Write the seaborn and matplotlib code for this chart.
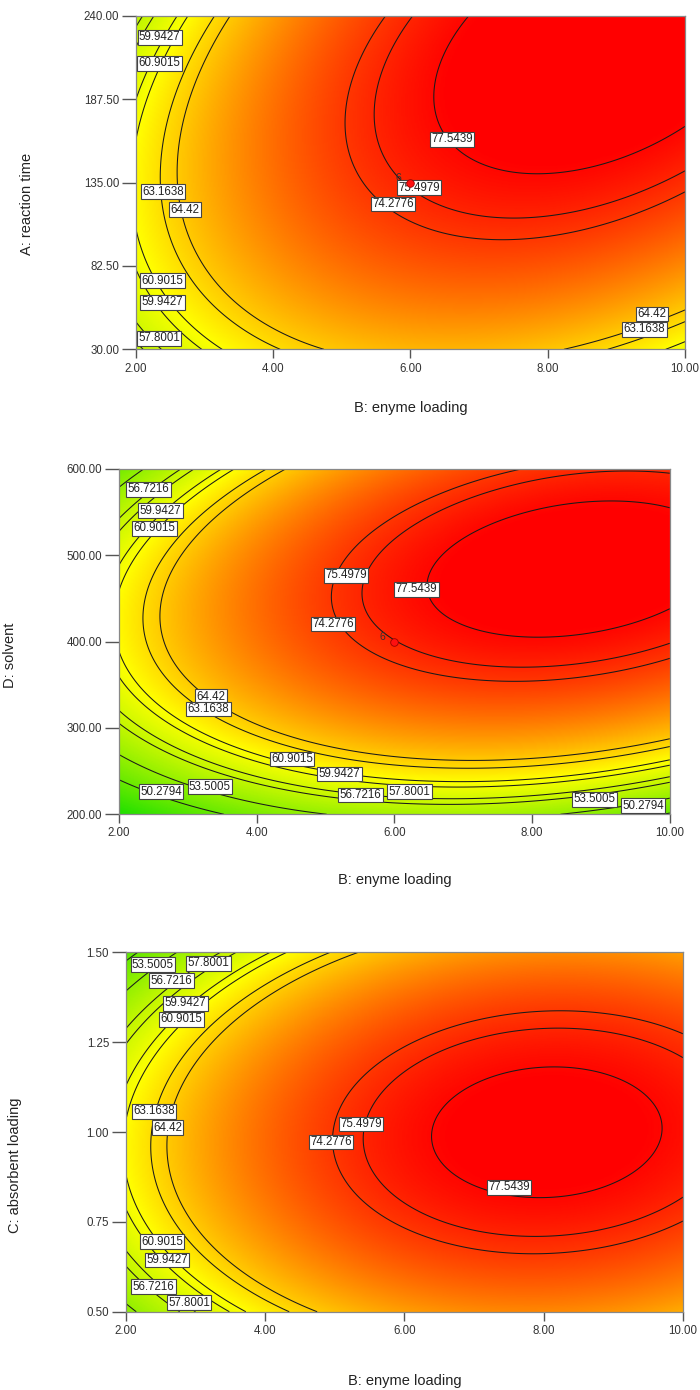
import numpy as np
import matplotlib
matplotlib.use("Agg")
import matplotlib.pyplot as plt
import seaborn as sns
from matplotlib.colors import LinearSegmentedColormap
from matplotlib.ticker import FormatStrFormatter

sns.set_theme(style="white")
plt.rcParams['font.family'] = ['Liberation Sans', 'DejaVu Sans']

# ---- data ----
levels = [50.2794, 53.5005, 56.7216, 57.8001, 59.9427, 60.9015, 63.1638, 64.42, 74.2776, 75.4979, 77.5439]
b_range = [2.0, 10.0]
b_ticks = [2.0, 4.0, 6.0, 8.0, 10.0]
x_label = "B: enyme loading"

# quadratic response-surface coefficients (coded units): b0, bB, bY, bBB, bYY, bBY
coef_A = [75.671, 6.791, 4.820, -7.630, -5.088, 4.926]
coef_D = [75.427, 7.249, 7.854, -7.058, -13.026, 4.728]
coef_C = [76.833, 7.984, -0.600, -7.806, -10.099, 1.117]

range_A = [30.0, 240.0]
range_D = [200.0, 600.0]
range_C = [0.5, 1.5]
ticks_A = [30.0, 82.5, 135.0, 187.5, 240.0]
ticks_D = [200.0, 300.0, 400.0, 500.0, 600.0]
ticks_C = [0.50, 0.75, 1.00, 1.25, 1.50]
label_A = "A: reaction time"
label_D = "D: solvent"
label_C = "C: absorbent loading"

# design centre points (B, factor)
centre_A = [6.0, 135.0]
centre_D = [6.0, 400.0]

# contour-label anchor positions (B, factor)
lab_A = [("59.9427", 2.35, 226.6), ("60.9015", 2.35, 210.2), ("63.1638", 2.40, 129.3),
         ("64.42", 2.72, 118.0), ("60.9015", 2.39, 73.2), ("59.9427", 2.39, 59.6),
         ("57.8001", 2.34, 36.9), ("77.5439", 6.61, 162.3), ("75.4979", 6.13, 131.8),
         ("74.2776", 5.75, 121.5), ("64.42", 9.52, 52.2), ("63.1638", 9.41, 42.6)]
lab_D = [("56.7216", 2.43, 576.6), ("59.9427", 2.60, 551.8), ("60.9015", 2.52, 531.4),
         ("75.4979", 5.30, 477.0), ("74.2776", 5.11, 420.5), ("77.5439", 6.32, 460.7),
         ("64.42", 3.34, 336.3), ("63.1638", 3.30, 322.0), ("60.9015", 4.51, 264.0),
         ("59.9427", 5.20, 246.7), ("56.7216", 5.51, 222.4), ("57.8001", 6.22, 226.2),
         ("53.5005", 3.32, 232.0), ("50.2794", 2.61, 226.2), ("53.5005", 8.91, 217.4),
         ("50.2794", 9.61, 210.0)]
lab_C = [("53.5005", 2.39, 1.465), ("57.8001", 3.19, 1.469), ("56.7216", 2.66, 1.421),
         ("59.9427", 2.86, 1.358), ("60.9015", 2.80, 1.314), ("63.1638", 2.41, 1.058),
         ("64.42", 2.60, 1.012), ("75.4979", 5.38, 1.022), ("74.2776", 4.95, 0.972),
         ("77.5439", 7.50, 0.846), ("60.9015", 2.52, 0.695), ("59.9427", 2.59, 0.644),
         ("56.7216", 2.40, 0.570), ("57.8001", 2.91, 0.525)]

cmap = LinearSegmentedColormap.from_list(
    "de", [(0.0, '#10dd00'), (0.5, '#ffff00'), (1.0, '#ff0000')])

fig = plt.figure(figsize=(7, 13.9), dpi=100)

panels = [
    (coef_A, range_A, ticks_A, label_A, lab_A, centre_A,
     [0.1939, 0.7487, 0.7847, 0.2398], (-0.198, 0.436), -0.176),
    (coef_D, range_D, ticks_D, label_D, lab_D, centre_D,
     [0.1700, 0.4142, 0.7869, 0.2484], (-0.198, 0.461), -0.190),
    (coef_C, range_C, ticks_C, label_C, lab_C, None,
     [0.1796, 0.0563, 0.7961, 0.2586], (-0.199, 0.408), -0.193),
]

for coef, yr, yt, ylab, labs, centre, pos, ylc, xly in panels:
    ax = fig.add_axes(pos)
    B = np.linspace(b_range[0], b_range[1], 400)
    Y = np.linspace(yr[0], yr[1], 400)
    BB, YY = np.meshgrid(B, Y)
    xc = (BB - 6.0) / 4.0
    yc = (YY - (yr[0] + yr[1]) / 2) / ((yr[1] - yr[0]) / 2)
    Z = (coef[0] + coef[1] * xc + coef[2] * yc + coef[3] * xc * xc
         + coef[4] * yc * yc + coef[5] * xc * yc)
    ax.pcolormesh(BB, YY, Z, cmap=cmap, vmin=44, vmax=78, shading='gouraud',
                  rasterized=True)
    ax.contour(BB, YY, Z, levels=levels, colors='#1a1a1a', linewidths=0.75)
    for t, bx, by in labs:
        ax.text(bx, by, t, fontsize=8.3, color='#222', ha='center', va='center',
                zorder=5,
                bbox=dict(boxstyle='square,pad=0.12', facecolor='white',
                          edgecolor='#444', linewidth=0.8))
    if centre is not None:
        ax.scatter([centre[0]], [centre[1]], s=30, marker='o', color='#ff1010',
                   edgecolor='#990000', linewidth=0.6, zorder=6)
        ax.text(centre[0] - 0.17, centre[1], "6", fontsize=7.5, color='#333',
                ha='center', va='bottom', zorder=6)
    ax.set_xlim(*b_range)
    ax.set_ylim(*yr)
    ax.set_xticks(b_ticks)
    ax.set_yticks(yt)
    ax.xaxis.set_major_formatter(FormatStrFormatter('%.2f'))
    ax.yaxis.set_major_formatter(FormatStrFormatter('%.2f'))
    ax.tick_params(axis='x', direction='out', length=6.5, width=1.0, color='#555',
                   labelsize=8.3, labelcolor='#333', pad=3, bottom=True)
    ax.tick_params(axis='y', direction='out', length=10, width=1.0, color='#555',
                   labelsize=8.3, labelcolor='#333', pad=2, left=True)
    for s in ax.spines.values():
        s.set_color('#888')
        s.set_linewidth(0.9)
    ax.set_xlabel(x_label, fontsize=10.5, color='#222')
    ax.xaxis.set_label_coords(0.5, xly)
    ax.xaxis.label.set_va('center')
    ax.set_ylabel(ylab, fontsize=10.5, color='#222')
    ax.yaxis.set_label_coords(*ylc)
    ax.yaxis.label.set_va('center')
    ax.grid(False)

fig.savefig("out.png", dpi=100)
